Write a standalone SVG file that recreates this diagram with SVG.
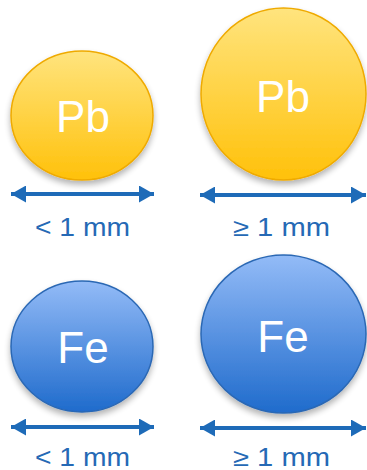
<svg xmlns="http://www.w3.org/2000/svg" width="367" height="470" viewBox="0 0 367 470">
<defs>
<linearGradient id="gPb" x1="0" y1="0" x2="0" y2="1">
<stop offset="0" stop-color="#FFE47E"/>
<stop offset="1" stop-color="#FFC10A"/>
</linearGradient>
<linearGradient id="gFe" x1="0" y1="0" x2="0" y2="1">
<stop offset="0" stop-color="#93BBF7"/>
<stop offset="1" stop-color="#1F6BCC"/>
</linearGradient>
<filter id="sh" x="-20%" y="-20%" width="140%" height="150%">
<feGaussianBlur in="SourceAlpha" stdDeviation="3"/>
<feOffset dy="4" result="b"/>
<feComponentTransfer><feFuncA type="linear" slope="0.3"/></feComponentTransfer>
<feMerge><feMergeNode/><feMergeNode in="SourceGraphic"/></feMerge>
</filter>
<marker id="ah" markerUnits="userSpaceOnUse" markerWidth="15" markerHeight="17" refX="15" refY="8.5" orient="auto-start-reverse">
<path d="M0,0 L15,8.5 L0,17 z" fill="#1E6BB8"/>
</marker>
</defs>
<style>
.pb{fill:url(#gPb);stroke:#EFAA00;stroke-width:1.5;filter:url(#sh)}
.fe{fill:url(#gFe);stroke:#2B68B4;stroke-width:1.5;filter:url(#sh)}
.el{font-family:"Liberation Sans",Arial,sans-serif;font-size:44px;fill:#FFFFFF;text-anchor:middle}
.lb{font-family:"Liberation Sans",Arial,sans-serif;font-size:25px;fill:#2569B5;text-anchor:middle}
.ar{stroke:#1E6BB8;stroke-width:4;fill:none;marker-start:url(#ah);marker-end:url(#ah)}
</style>
<g id="pb-small">
<ellipse class="pb" cx="82" cy="115.5" rx="71" ry="64.5"/>
<text class="el" x="83" y="132">Pb</text>
</g>
<g id="pb-large">
<ellipse class="pb" cx="283.5" cy="94" rx="82.5" ry="86"/>
<text class="el" x="283" y="112">Pb</text>
</g>
<g id="fe-small">
<ellipse class="fe" cx="82" cy="346.5" rx="71" ry="65.5"/>
<text class="el" x="83" y="363">Fe</text>
</g>
<g id="fe-large">
<ellipse class="fe" cx="283.5" cy="334" rx="82.5" ry="79"/>
<text class="el" x="283" y="352">Fe</text>
</g>
<g id="connectors">
<line class="ar" x1="11" y1="194" x2="154" y2="194"/>
<line class="ar" x1="200" y1="195" x2="366" y2="195"/>
<line class="ar" x1="11" y1="427" x2="154" y2="427"/>
<line class="ar" x1="200" y1="428" x2="366" y2="428"/>
</g>
<g id="labels">
<text class="lb" x="82.5" y="236" textLength="95" lengthAdjust="spacingAndGlyphs">&lt; 1 mm</text>
<text class="lb" x="281.5" y="236" textLength="97" lengthAdjust="spacingAndGlyphs">≥ 1 mm</text>
<text class="lb" x="82.5" y="466" textLength="95" lengthAdjust="spacingAndGlyphs">&lt; 1 mm</text>
<text class="lb" x="281.5" y="466" textLength="97" lengthAdjust="spacingAndGlyphs">≥ 1 mm</text>
</g>
</svg>
